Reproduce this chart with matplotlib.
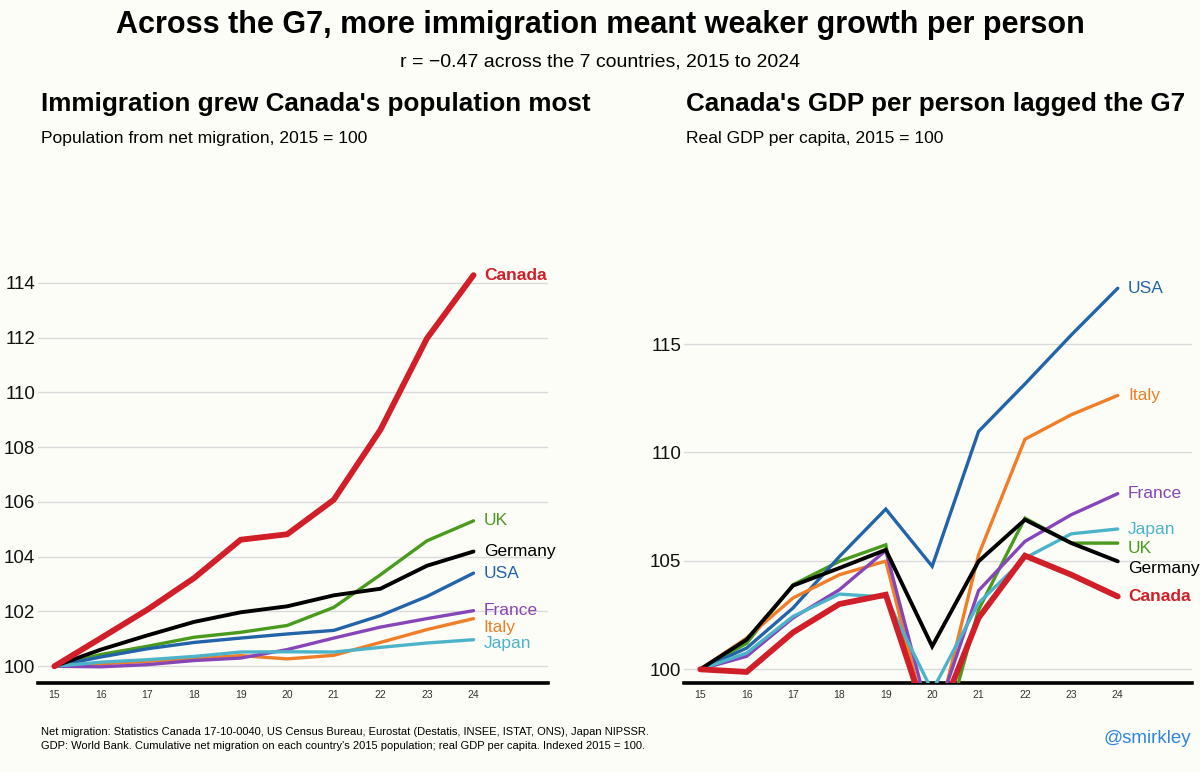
import matplotlib
matplotlib.use("Agg")
import matplotlib.pyplot as plt

plt.rcParams['font.family'] = ['Liberation Sans', 'DejaVu Sans']

years = [15, 16, 17, 18, 19, 20, 21, 22, 23, 24]
countries = ["UK", "USA", "Italy", "France", "Japan", "Germany", "Canada"]

# population from net migration, 2015 = 100
pop_canada = [100, 101.03, 102.07, 103.22, 104.62, 104.82, 106.08, 108.63, 111.97, 114.28]
pop_uk = [100, 100.43, 100.73, 101.06, 101.24, 101.49, 102.15, 103.34, 104.58, 105.31]
pop_germany = [100, 100.61, 101.13, 101.62, 101.97, 102.19, 102.59, 102.83, 103.67, 104.19]
pop_usa = [100, 100.34, 100.64, 100.87, 101.03, 101.18, 101.31, 101.85, 102.55, 103.40]
pop_france = [100, 99.98, 100.06, 100.21, 100.30, 100.61, 101.03, 101.43, 101.74, 102.03]
pop_italy = [100, 100.09, 100.18, 100.28, 100.39, 100.27, 100.40, 100.87, 101.34, 101.74]
pop_japan = [100, 100.15, 100.24, 100.36, 100.52, 100.53, 100.52, 100.69, 100.85, 100.97]

# real GDP per capita, 2015 = 100
gdp_usa = [100, 100.98, 102.83, 105.2, 107.39, 104.75, 110.97, 113.16, 115.42, 117.57]
gdp_italy = [100, 101.44, 103.29, 104.36, 104.99, 96.6, 105.28, 110.61, 111.74, 112.63]
gdp_france = [100, 100.6, 102.37, 103.67, 105.48, 97.3, 103.63, 105.9, 107.13, 108.1]
gdp_japan = [100, 100.75, 102.44, 103.47, 103.33, 99.0, 103.06, 105.13, 106.25, 106.47]
gdp_uk = [100, 101.2, 103.9, 104.98, 105.74, 95.0, 102.75, 106.97, 105.82, 105.82]
gdp_germany = [100, 101.37, 103.86, 104.67, 105.51, 101.06, 104.98, 106.9, 105.82, 104.98]
gdp_canada = [100, 99.88, 101.7, 103.01, 103.44, 97.0, 102.37, 105.24, 104.36, 103.36]

pop = {"Canada": pop_canada, "UK": pop_uk, "Germany": pop_germany, "USA": pop_usa,
       "France": pop_france, "Italy": pop_italy, "Japan": pop_japan}
gdp = {"Canada": gdp_canada, "UK": gdp_uk, "Germany": gdp_germany, "USA": gdp_usa,
       "France": gdp_france, "Italy": gdp_italy, "Japan": gdp_japan}

colors = {"Canada": "#d11f2a", "UK": "#4a9a1e", "Germany": "#000000", "USA": "#2364a8",
          "France": "#8646b8", "Italy": "#f07e28", "Japan": "#4cb3c9"}

BG = "#fdfdf8"


def push_labels(values, gap):
    """place end labels top-down, pushing each one below the previous if too close"""
    order = sorted(values, key=lambda k: -values[k])
    pos = {}
    prev = None
    for k in order:
        y = values[k]
        if prev is not None and prev - y < gap:
            y = prev - gap
        pos[k] = y
        prev = y
    return pos


def draw_panel(ax, data, yticks, ylim, gap):
    ax.set_facecolor(BG)
    for c in countries:
        lw = 4.2 if c == "Canada" else (2.8 if c == "Germany" else 2.4)
        ax.plot(years, data[c], color=colors[c], linewidth=lw,
                solid_capstyle='round', solid_joinstyle='miter', zorder=3)
    ax.set_xlim(14.65, 25.6)
    ax.set_ylim(*ylim)
    ax.set_yticks(yticks)
    ax.set_xticks(years)
    ax.set_xticklabels([str(y) for y in years], fontsize=7.5, color='#333333')
    ax.tick_params(axis='y', length=0, labelsize=13.5, pad=2, colors='#111111')
    ax.tick_params(axis='x', length=0, pad=5)
    ax.grid(True, axis='y', color='#d9d9d9', linewidth=1, zorder=0)
    for s in ['top', 'right', 'left']:
        ax.spines[s].set_visible(False)
    ax.spines['bottom'].set_linewidth(2.6)
    ax.spines['bottom'].set_color('black')

    finals = {c: data[c][-1] for c in countries}
    pos = push_labels(finals, gap)
    for c in countries:
        ax.text(years[-1] + 0.22, pos[c], c, color=colors[c], fontsize=12.5,
                fontweight='bold' if c == "Canada" else 'normal',
                va='center', ha='left', zorder=4)


fig = plt.figure(figsize=(12, 7.72), dpi=100)
fig.patch.set_facecolor(BG)

ax1 = fig.add_axes([0.0317, 0.1153, 0.425, 0.545])
ax2 = fig.add_axes([0.570, 0.1153, 0.4233, 0.545])

draw_panel(ax1, pop, [100, 102, 104, 106, 108, 110, 112, 114], (99.39, 114.75), 0.6)
draw_panel(ax2, gdp, [100, 105, 110, 115], (99.37, 118.77), 0.92)

fig.text(0.5, 0.967, "Across the G7, more immigration meant weaker growth per person",
         ha='center', va='center', fontsize=22, fontweight='bold')
fig.text(0.5, 0.92, "r = \u22120.47 across the 7 countries, 2015 to 2024",
         ha='center', va='center', fontsize=14)

fig.text(0.034, 0.865, "Immigration grew Canada's population most",
         ha='left', va='center', fontsize=18.7, fontweight='bold')
fig.text(0.034, 0.82, "Population from net migration, 2015 = 100",
         ha='left', va='center', fontsize=12.6)
fig.text(0.572, 0.865, "Canada's GDP per person lagged the G7",
         ha='left', va='center', fontsize=18.7, fontweight='bold')
fig.text(0.572, 0.82, "Real GDP per capita, 2015 = 100",
         ha='left', va='center', fontsize=12.6)

fig.text(0.034, 0.052,
         "Net migration: Statistics Canada 17-10-0040, US Census Bureau, Eurostat (Destatis, INSEE, ISTAT, ONS), Japan NIPSSR.",
         ha='left', va='center', fontsize=8)
fig.text(0.034, 0.034,
         "GDP: World Bank. Cumulative net migration on each country's 2015 population; real GDP per capita. Indexed 2015 = 100.",
         ha='left', va='center', fontsize=8)
fig.text(0.993, 0.043, "@smirkley", ha='right', va='center', fontsize=13.5, color='#2e86de')

plt.savefig("out.png", dpi=100, facecolor=BG)
plt.close()
